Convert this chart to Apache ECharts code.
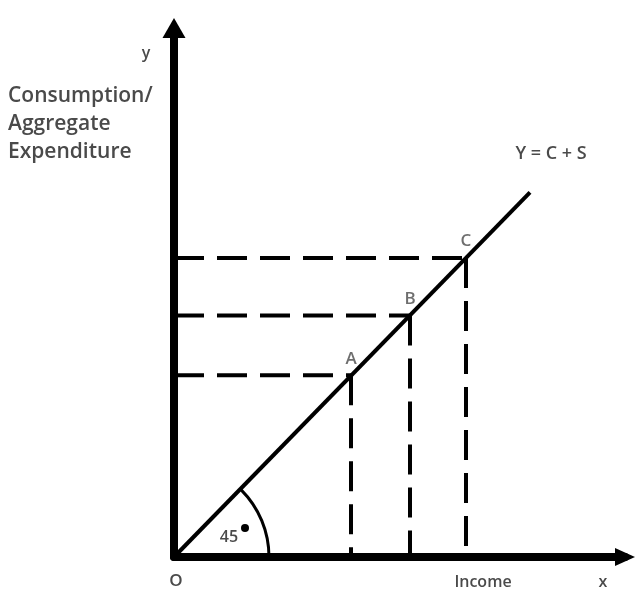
<!DOCTYPE html>
<html>
<head>
<meta charset="utf-8">
<script src="https://cdn.jsdelivr.net/npm/echarts@6/dist/echarts.min.js"></script>
<style>
  html, body { margin: 0; padding: 0; background: #fff; }
  #chart { width: 642px; height: 592px; }
</style>
</head>
<body>
<div id="chart"></div>
<script>
// 数据: 45度线上的三个点 (收入 = 支出)
const pointNames = ['A', 'B', 'C']
const incomeValues = [177, 236, 292]
const spendValues = [177, 235, 291]
// 45度线的起点和终点
const lineX = [0, 356]
const lineY = [0, 355]
// 角度标记的半径 (x轴单位)
const arcRadius = 95

const myChart = echarts.init(document.querySelector('#chart'))

const dashStyle = { color: '#000', width: 4, type: [30, 13] }

// 每个点画一条横虚线和一条竖虚线
const dashSeries = []
pointNames.forEach((name, i) => {
  dashSeries.push({
    type: 'line',
    data: [[0, spendValues[i]], [incomeValues[i], spendValues[i]]],
    symbol: 'none',
    lineStyle: dashStyle,
    silent: true
  })
  dashSeries.push({
    type: 'line',
    data: [[incomeValues[i], spendValues[i]], [incomeValues[i], 0]],
    symbol: 'none',
    lineStyle: dashStyle,
    silent: true
  })
})

const textColor = '#4a4a4a'
const txt = (x, y, text, size) => ({
  type: 'text', x, y,
  style: { text, font: `600 ${size}px "Open Sans"`, fill: textColor, align: 'center', verticalAlign: 'middle' }
})

const option = {
  animation: false,
  grid: { left: 174, right: 17, top: 28, bottom: 35 },
  xAxis: {
    type: 'value',
    min: 0,
    max: 451,
    axisLine: {
      lineStyle: { color: '#000', width: 8 },
      symbol: ['none', 'triangle'],
      symbolSize: [18, 20]
    },
    axisTick: { show: false },
    axisLabel: { show: false },
    splitLine: { show: false }
  },
  yAxis: {
    type: 'value',
    min: 0,
    max: 515,
    axisLine: {
      lineStyle: { color: '#000', width: 8 },
      symbol: ['none', 'triangle'],
      symbolSize: [23, 20]
    },
    axisTick: { show: false },
    axisLabel: { show: false },
    splitLine: { show: false }
  },
  series: [
    ...dashSeries,
    {
      // 45度线 Y = C + S
      type: 'line',
      data: [[lineX[0], lineY[0]], [lineX[1], lineY[1]]],
      symbol: 'none',
      lineStyle: { color: '#000', width: 4 },
      z: 5
    },
    {
      // 点的字母
      type: 'scatter',
      data: pointNames.map((name, i) => ({ name, value: [incomeValues[i], spendValues[i]] })),
      symbolSize: 0,
      label: {
        show: true,
        formatter: '{b}',
        position: 'top',
        distance: 8,
        fontSize: 17,
        fontWeight: 600,
        fontFamily: 'Open Sans',
        color: textColor
      },
      z: 6
    }
  ],
  graphic: [
    {
      type: 'text',
      left: 8,
      top: 82,
      style: {
        text: 'Consumption/\nAggregate\nExpenditure',
        font: '600 21px "Open Sans"',
        fill: textColor,
        lineHeight: 28
      }
    },
    txt(146, 53, 'y', 16),
    txt(551, 154, 'Y = C + S', 18),
    txt(176, 581, 'O', 17),
    txt(483, 582, 'Income', 16),
    txt(603, 582, 'x', 16),
    txt(229, 537, '45', 16),
    { type: 'circle', shape: { cx: 245, cy: 528, r: 4 }, style: { fill: '#000' } }
  ]
}
myChart.setOption(option)

// 角度标记圆弧, 圆心在原点
const o = myChart.convertToPixel({ gridIndex: 0 }, [0, 0])
const r = myChart.convertToPixel({ gridIndex: 0 }, [arcRadius, 0])[0] - o[0]
myChart.setOption({
  graphic: [
    ...option.graphic,
    {
      type: 'arc',
      shape: { cx: o[0], cy: o[1], r, startAngle: -Math.PI / 4, endAngle: 0, clockwise: true },
      style: { stroke: '#000', lineWidth: 3, fill: null },
      z: 5
    }
  ]
})
</script>
</body>
</html>
